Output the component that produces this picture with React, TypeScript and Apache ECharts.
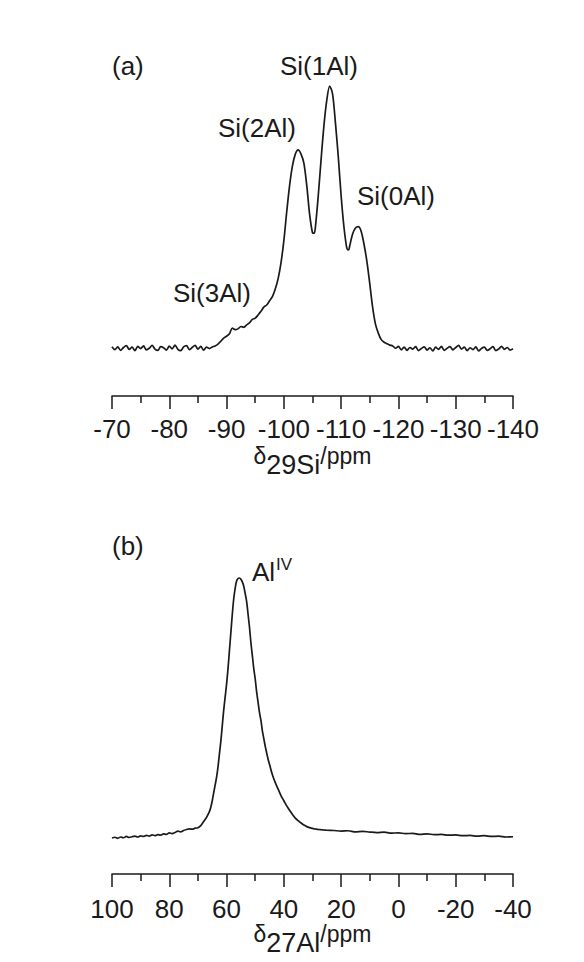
import React, { useEffect, useRef } from "react";
import * as echarts from "echarts";

// (a) 29Si spectrum: [ppm, intensity]
const siSpectrum: [number, number][] = [
  [-70, 0.5], [-70.5, -0.6], [-71, 0.4], [-71.5, -0.9], [-72, 0.2], [-72.5, 0.9], [-73, -0.5], [-73.5, 0.3],
  [-74, -1.0], [-74.5, 0.6], [-75, -0.2], [-75.5, 0.8], [-76, -0.7], [-76.5, -0.1], [-77, 1.0], [-77.5, -0.4],
  [-78, -0.9], [-78.5, 0.5], [-79, 0.1], [-79.5, -0.8], [-80, 0.7], [-80.5, -0.3], [-81, 1.1], [-81.5, -0.5],
  [-82, -1.0], [-82.5, 0.4], [-83, 0.9], [-83.5, -0.6], [-84, 0.2], [-84.5, 1.0], [-85, -0.4], [-85.5, 0.6],
  [-86, -0.8], [-86.5, 0.3], [-87, -0.2], [-87.5, 0.4],
  [-88, 0.8], [-88.5, 1.5], [-89, 2.6], [-89.5, 3.8], [-90, 4.5], [-90.5, 5.4], [-91, 7.6], [-91.5, 7.0],
  [-92, 7.3], [-92.5, 8.2], [-93, 7.9], [-93.5, 8.8], [-94, 9.6], [-94.5, 10.9], [-95, 11.4], [-95.5, 12.6],
  [-96, 14.0], [-96.5, 15.6], [-97, 16.4], [-97.5, 18.0], [-98, 19.6], [-98.5, 22.5], [-99, 26.5], [-99.5, 32.5],
  [-100, 41], [-100.5, 52], [-101, 62], [-101.5, 69.5], [-102, 74], [-102.5, 75.6], [-103, 74], [-103.5, 70.5],
  [-104, 62], [-104.5, 51], [-105, 44], [-105.3, 43.8], [-105.5, 46], [-106, 58], [-106.5, 72], [-107, 85],
  [-107.5, 94.7], [-108, 100], [-108.5, 97], [-109, 86], [-109.5, 73], [-110, 58], [-110.5, 46], [-111, 38],
  [-111.3, 37.4], [-111.5, 39], [-112, 43.5], [-112.5, 45.8], [-113, 46.3], [-113.5, 44.5], [-114, 39.5], [-114.5, 33],
  [-115, 24.5], [-115.5, 15.5], [-116, 9], [-116.5, 5.6], [-117, 3.2], [-117.5, 2.2], [-118, 1.6], [-118.5, 1.1],
  [-119, 0.8], [-119.5, -0.1], [-120, 0.6], [-120.5, -0.7], [-121, 0.3], [-121.5, -0.9], [-122, 0.2], [-122.5, -0.4],
  [-123, 0.5], [-123.5, -1.0], [-124, -0.2], [-124.5, 0.4], [-125, -0.8], [-125.5, 0.1], [-126, -1.1], [-126.5, 0.3],
  [-127, -0.5], [-127.5, 0.6], [-128, -0.9], [-128.5, -0.1], [-129, 0.5], [-129.5, -0.7], [-130, 0.2], [-130.5, 1.0],
  [-131, -0.4], [-131.5, 0.3], [-132, -1.0], [-132.5, 0.1], [-133, -0.6], [-133.5, 0.4], [-134, -1.1], [-134.5, -0.2],
  [-135, 0.3], [-135.5, -0.9], [-136, -0.3], [-136.5, 0.5], [-137, -1.0], [-137.5, -0.4], [-138, 0.6], [-138.5, -0.5],
  [-139, 0.2], [-139.5, -0.8], [-140, -0.3],
];

// (b) 27Al spectrum: [ppm, intensity]
const alSpectrum: [number, number][] = [
  [100, -0.4], [99, -0.1], [98, -0.5], [97, 0.0], [96, -0.3], [95, 0.2], [94, -0.2], [93, 0.1], [92, 0.3], [91, 0.0],
  [90, 0.4], [89, 0.2], [88, 0.6], [87, 0.3], [86, 0.8], [85, 0.5], [84, 0.9], [83, 0.7], [82, 1.2], [81, 1.0],
  [80, 1.6], [79, 1.3], [78, 1.7], [77, 2.3], [76, 2.0], [75, 2.5], [74, 2.9], [73, 3.1], [72, 3.0], [71, 3.4],
  [70, 3.6], [69, 4.4], [68, 6.0], [67, 7.6], [66, 9.8], [65.5, 11.5], [65, 14], [64.5, 17], [64, 20], [63.5, 23],
  [63, 27], [62.5, 32], [62, 37], [61.5, 43], [61, 49], [60.5, 54], [60, 59], [59.5, 65], [59, 72], [58.5, 79],
  [58, 86], [57.5, 92], [57, 96], [56.5, 98.8], [56, 99.8], [55.5, 100], [55, 99.5], [54.5, 98.5], [54, 96.8], [53.5, 94],
  [53, 91], [52.5, 86], [52, 81], [51.5, 75], [51, 70], [50.5, 65], [50, 61], [49.5, 56], [49, 52], [48.5, 48],
  [48, 45], [47.5, 41], [47, 38], [46.5, 35], [46, 32.5], [45.5, 30], [45, 28], [44, 24], [43, 21], [42, 18.5],
  [41, 16], [40, 14], [39, 12], [38, 10.3], [37, 8.7], [36, 7.3], [35, 6.3], [34, 5.4], [33, 4.6], [32, 4.0],
  [31, 3.6], [30, 3.3], [29, 3.1], [28, 2.9], [27, 2.8], [26, 2.7], [25, 2.6], [22.5, 2.5], [20, 2.3], [17.5, 2.4],
  [15, 2.0], [12.5, 2.2], [10, 1.9], [7.5, 1.7], [5, 1.9], [2.5, 1.5], [0, 1.6], [-2.5, 1.3], [-5, 1.4], [-7.5, 1.0],
  [-10, 1.2], [-12.5, 0.9], [-15, 1.0], [-17.5, 0.7], [-20, 0.8], [-22.5, 0.5], [-25, 0.6], [-27.5, 0.3], [-30, 0.5],
  [-32.5, 0.2], [-35, 0.3], [-37.5, 0.0], [-40, 0.1],
];

const siAxisRange = { min: -140, max: -70, interval: 10 };
const alAxisRange = { min: -40, max: 100, interval: 20 };

const siLabels = [
  { text: "Si(1Al)", x: 280, y: 66 },
  { text: "Si(2Al)", x: 218, y: 128 },
  { text: "Si(0Al)", x: 357, y: 196 },
  { text: "Si(3Al)", x: 173, y: 293 },
];

const FONT = "'Liberation Sans', Arial, Helvetica, sans-serif";
const INK = "#1a1a1a";

function makeXAxis(gridIndex: number, range: { min: number; max: number; interval: number }, name: string, margin: number) {
  return {
    gridIndex,
    type: "value",
    inverse: true,
    min: range.min,
    max: range.max,
    interval: range.interval,
    name,
    nameLocation: "middle",
    nameGap: 48,
    nameTextStyle: {
      fontFamily: FONT,
      color: INK,
      rich: {
        a: { fontFamily: FONT, fontSize: 23, lineHeight: 24, verticalAlign: "top", color: INK },
        b: { fontFamily: FONT, fontSize: 27, lineHeight: 34, verticalAlign: "bottom", color: INK },
      },
    },
    axisLine: { show: true, onZero: false, lineStyle: { color: INK, width: 1.5 } },
    axisTick: { show: true, inside: false, length: 13, lineStyle: { color: INK, width: 1.5 } },
    minorTick: { show: true, splitNumber: 2, length: 7, lineStyle: { color: INK, width: 1.5 } },
    axisLabel: { show: true, margin, fontFamily: FONT, fontSize: 26, color: INK },
    splitLine: { show: false },
    minorSplitLine: { show: false },
  };
}

export default function App() {
  const ref = useRef<HTMLDivElement>(null);
  useEffect(() => {
    if (!ref.current) return;
    const chart = echarts.init(ref.current, undefined, { renderer: "svg" });
    const textStyle = (text: string, x: number, y: number, size = 26) => ({
      type: "text",
      x,
      y,
      style: { text, fontFamily: FONT, fontSize: size, fill: INK, textAlign: "left", textVerticalAlign: "middle" },
    });
    chart.setOption({
      animation: false,
      backgroundColor: "#ffffff",
      grid: [
        { left: 112, right: 71, top: 86, height: 310 },
        { left: 112, right: 71, top: 578, height: 296 },
      ],
      xAxis: [
        makeXAxis(0, siAxisRange, "{a|δ}{b|29Si}{a|/ppm}", 20),
        makeXAxis(1, alAxisRange, "{a|δ}{b|27Al}{a|/ppm}", 22),
      ],
      yAxis: [
        { gridIndex: 0, type: "value", show: false, min: -18.32, max: 100 },
        { gridIndex: 1, type: "value", show: false, min: -14.29, max: 100 },
      ],
      series: [
        {
          type: "line",
          xAxisIndex: 0,
          yAxisIndex: 0,
          data: siSpectrum,
          showSymbol: false,
          smooth: 0.3,
          clip: false,
          lineStyle: { color: INK, width: 1.7 },
        },
        {
          type: "line",
          xAxisIndex: 1,
          yAxisIndex: 1,
          data: alSpectrum,
          showSymbol: false,
          smooth: 0.3,
          clip: false,
          lineStyle: { color: INK, width: 1.7 },
        },
      ],
      graphic: [
        textStyle("(a)", 112, 66),
        ...siLabels.map((l) => textStyle(l.text, l.x, l.y)),
        textStyle("(b)", 112, 546),
        textStyle("Al", 252, 572),
        textStyle("IV", 276, 564, 17),
      ],
    });
    return () => chart.dispose();
  }, []);
  return <div ref={ref} style={{ position: "fixed", left: 0, top: 0, width: 584, height: 962, background: "#fff" }} />;
}
